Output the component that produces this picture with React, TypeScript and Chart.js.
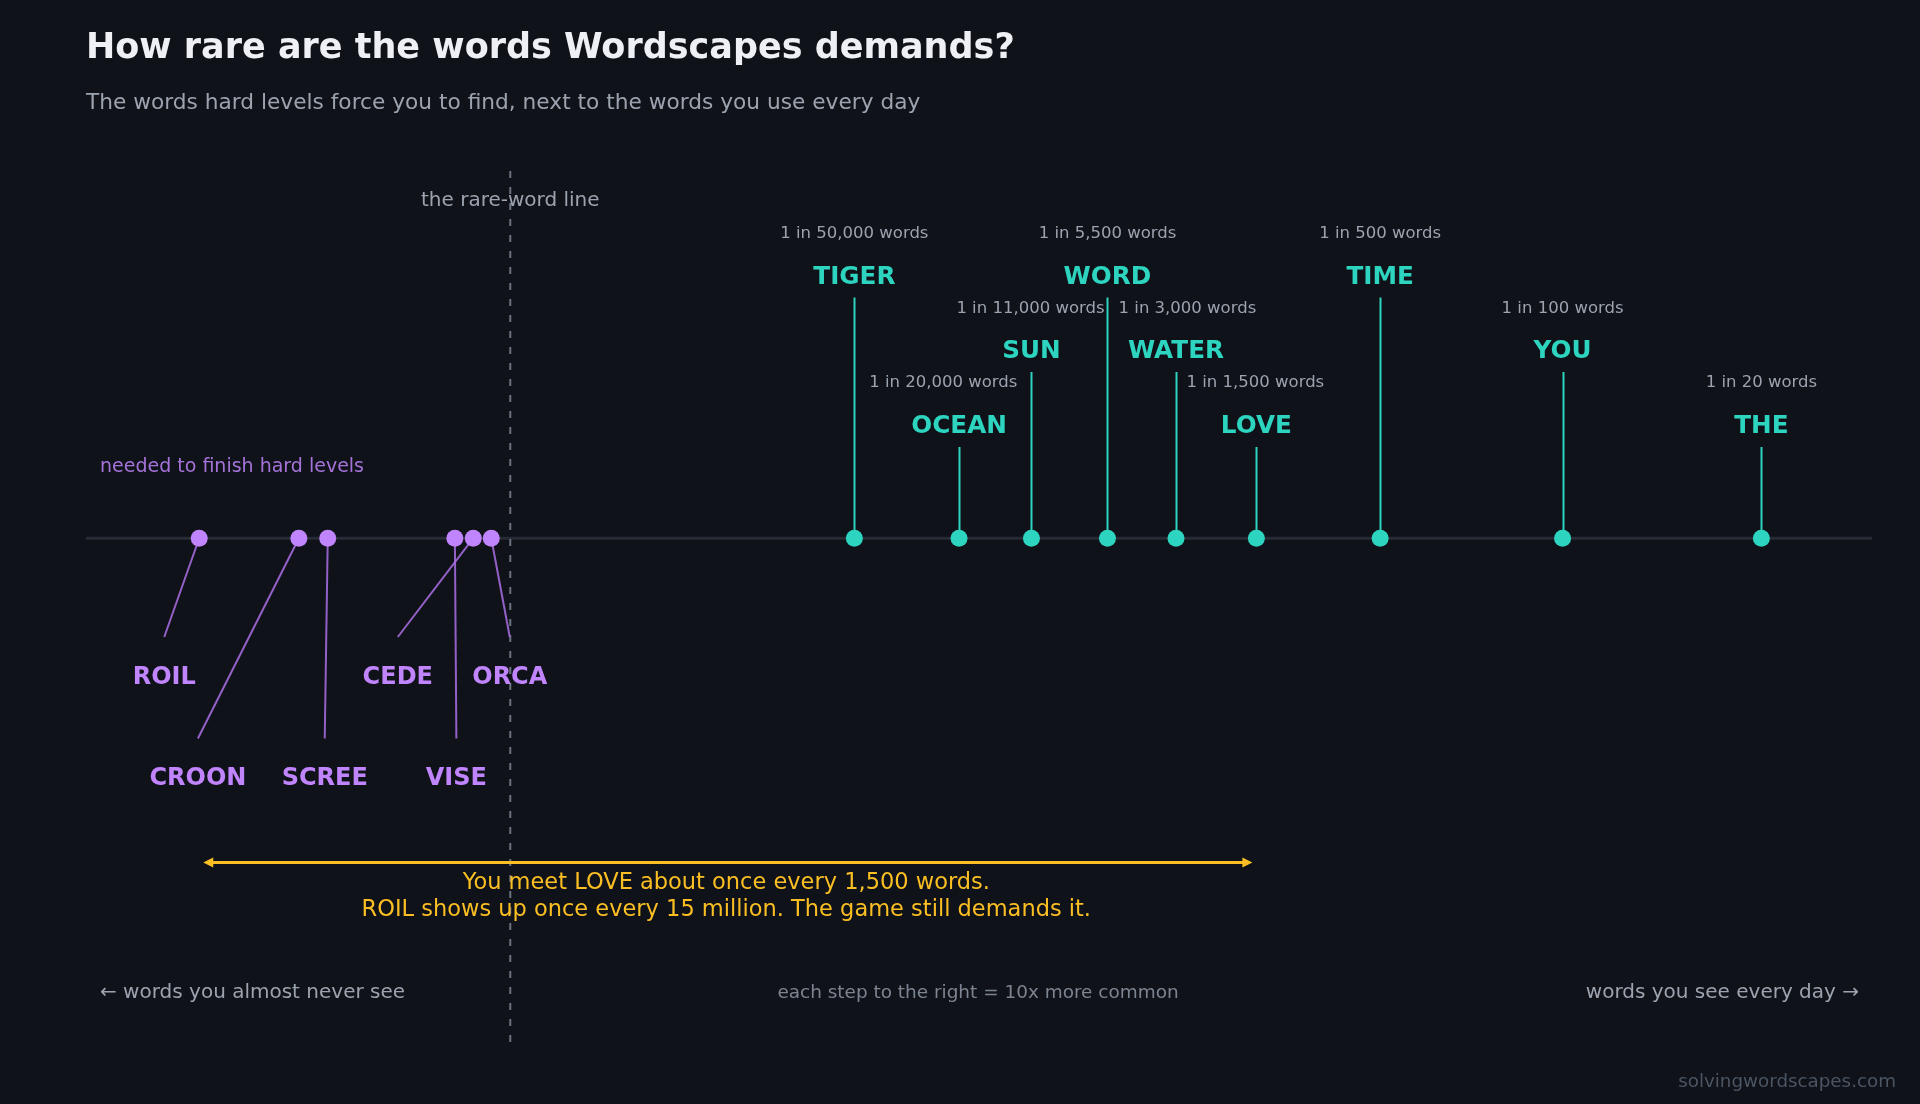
import React, { useEffect, useRef } from 'react';
import { Chart, registerables } from 'chart.js';

Chart.register(...registerables);

// ---------- DATA ----------
const TITLE = 'How rare are the words Wordscapes demands?';
const SUBTITLE = 'The words hard levels force you to find, next to the words you use every day';

// common words: position value ("1 in N words", as plotted) and the printed label
const COMMON_WORDS = ['TIGER', 'OCEAN', 'SUN', 'WORD', 'WATER', 'LOVE', 'TIME', 'YOU', 'THE'];
const COMMON_ONE_IN = [50000, 20100, 10700, 5520, 3040, 1510, 514, 105, 18.6];
const COMMON_LABELS = [
  '1 in 50,000 words',
  '1 in 20,000 words',
  '1 in 11,000 words',
  '1 in 5,500 words',
  '1 in 3,000 words',
  '1 in 1,500 words',
  '1 in 500 words',
  '1 in 100 words',
  '1 in 20 words',
];

// rare words needed for hard levels: "1 in N words"
const RARE_WORDS = ['ROIL', 'CROON', 'SCREE', 'VISE', 'CEDE', 'ORCA'];
const RARE_ONE_IN = [15000000, 6300000, 4900000, 1620000, 1380000, 1180000];

const RARE_LINE_ONE_IN = 1000000;
const AXIS_ONE_IN_MIN = 7.1;
const AXIS_ONE_IN_MAX = 40200000;

const RARE_LINE_LABEL = 'the rare-word line';
const RARE_GROUP_LABEL = 'needed to finish hard levels';
const CALLOUT_FROM = 'ROIL';
const CALLOUT_TO = 'LOVE';
const CALLOUT_LINES = [
  'You meet LOVE about once every 1,500 words.',
  'ROIL shows up once every 15 million. The game still demands it.',
];
const LEFT_NOTE = '\u2190 words you almost never see';
const CENTER_NOTE = 'each step to the right = 10x more common';
const RIGHT_NOTE = 'words you see every day \u2192';
const SOURCE = 'solvingwordscapes.com';

// ---------- LAYOUT (annotation placement, not data) ----------
const COMMON_ROW = [0, 2, 1, 0, 1, 2, 0, 1, 2];
const COMMON_FREQ_DX = [0, -15.7, -1, 0, 11.4, -1, 0, 0, 0];
const COMMON_ROW_FREQ_Y = [234, 308.5, 383];
const COMMON_ROW_WORD_Y = [277.5, 352, 426.5];
const COMMON_ROW_STEM_Y = [297.5, 372, 447];
const RARE_ROW = [0, 1, 1, 1, 0, 0];
const RARE_DX = [-35, -101, -3, 1.5, -75.5, 18.5];
const RARE_ROW_TEXT_Y = [678, 779];
const RARE_ROW_LEAD_Y = [637, 738.5];

const W = 1920;
const H = 1104;
const AXIS_Y = 538;

const FONT = '"DejaVu Sans", "Noto Sans", sans-serif';
const BG = '#0f1218';
const TEAL = '#2dd4bf';
const PURPLE = '#c084fc';
const AMBER = '#fbbf24';
const GRAY = '#9ca3af';

const annotations = {
  id: 'annotations',
  beforeDraw(chart: any) {
    const ctx = chart.ctx;
    ctx.save();
    ctx.fillStyle = BG;
    ctx.fillRect(0, 0, chart.width, chart.height);
    ctx.restore();
  },
  beforeDatasetsDraw(chart: any) {
    const ctx = chart.ctx;
    const xs = chart.scales.x;
    const ys = chart.scales.y;
    const area = chart.chartArea;
    const ay = ys.getPixelForValue(0);
    ctx.save();
    // axis line
    ctx.strokeStyle = '#262b35';
    ctx.lineWidth = 3;
    ctx.beginPath();
    ctx.moveTo(area.left, ay);
    ctx.lineTo(area.right, ay);
    ctx.stroke();

    // rare line
    const rx = xs.getPixelForValue(RARE_LINE_ONE_IN);
    ctx.strokeStyle = '#6b7280';
    ctx.lineWidth = 2;
    ctx.setLineDash([7, 9]);
    ctx.beginPath();
    ctx.moveTo(rx, 171);
    ctx.lineTo(rx, 1045);
    ctx.stroke();
    ctx.setLineDash([]);

    // common stems
    ctx.strokeStyle = TEAL;
    ctx.lineWidth = 2;
    COMMON_ONE_IN.forEach((v, i) => {
      const x = Math.round(xs.getPixelForValue(v)) + 0.5;
      ctx.beginPath();
      ctx.moveTo(x, COMMON_ROW_STEM_Y[COMMON_ROW[i]]);
      ctx.lineTo(x, ay);
      ctx.stroke();
    });

    // rare leaders
    ctx.strokeStyle = 'rgba(170, 110, 230, 0.85)';
    ctx.lineWidth = 2;
    RARE_ONE_IN.forEach((v, i) => {
      const x = xs.getPixelForValue(v);
      ctx.beginPath();
      ctx.moveTo(x, ay);
      ctx.lineTo(x + RARE_DX[i], RARE_ROW_LEAD_Y[RARE_ROW[i]]);
      ctx.stroke();
    });

    // callout arrow
    const x1 = xs.getPixelForValue(RARE_ONE_IN[RARE_WORDS.indexOf(CALLOUT_FROM)]) + 4;
    const x2 = xs.getPixelForValue(COMMON_ONE_IN[COMMON_WORDS.indexOf(CALLOUT_TO)]) - 4;
    const y = 862.5;
    ctx.strokeStyle = AMBER;
    ctx.fillStyle = AMBER;
    ctx.lineWidth = 3;
    ctx.beginPath();
    ctx.moveTo(x1 + 6, y);
    ctx.lineTo(x2 - 6, y);
    ctx.stroke();
    ctx.beginPath();
    ctx.moveTo(x1, y);
    ctx.lineTo(x1 + 10, y - 5);
    ctx.lineTo(x1 + 10, y + 5);
    ctx.closePath();
    ctx.fill();
    ctx.beginPath();
    ctx.moveTo(x2, y);
    ctx.lineTo(x2 - 10, y - 5);
    ctx.lineTo(x2 - 10, y + 5);
    ctx.closePath();
    ctx.fill();
    ctx.restore();
  },
  afterDatasetsDraw(chart: any) {
    const ctx = chart.ctx;
    const xs = chart.scales.x;
    const area = chart.chartArea;
    ctx.save();
    ctx.textBaseline = 'middle';

    // title & subtitle
    ctx.textAlign = 'left';
    ctx.fillStyle = '#eef0f5';
    ctx.font = `bold 35px ${FONT}`;
    ctx.fillText(TITLE, area.left, 49);
    ctx.fillStyle = GRAY;
    ctx.font = `21.7px ${FONT}`;
    ctx.fillText(SUBTITLE, area.left, 103);

    // rare line label
    const rx = xs.getPixelForValue(RARE_LINE_ONE_IN);
    ctx.textAlign = 'center';
    ctx.fillStyle = GRAY;
    ctx.font = `20px ${FONT}`;
    ctx.fillText(RARE_LINE_LABEL, rx, 201);

    // rare group label
    ctx.textAlign = 'left';
    ctx.fillStyle = 'rgba(192, 132, 252, 0.85)';
    ctx.font = `19px ${FONT}`;
    ctx.fillText(RARE_GROUP_LABEL, 100, 467.5);

    // common labels
    ctx.textAlign = 'center';
    COMMON_WORDS.forEach((w, i) => {
      const x = xs.getPixelForValue(COMMON_ONE_IN[i]);
      const r = COMMON_ROW[i];
      ctx.fillStyle = GRAY;
      ctx.font = `16.5px ${FONT}`;
      ctx.fillText(COMMON_LABELS[i], x + COMMON_FREQ_DX[i], COMMON_ROW_FREQ_Y[r]);
      ctx.fillStyle = TEAL;
      ctx.font = `bold 24.7px ${FONT}`;
      ctx.fillText(w, x, COMMON_ROW_WORD_Y[r]);
    });

    // rare labels
    RARE_WORDS.forEach((w, i) => {
      const x = xs.getPixelForValue(RARE_ONE_IN[i]) + RARE_DX[i];
      ctx.fillStyle = PURPLE;
      ctx.font = `bold 24px ${FONT}`;
      ctx.fillText(w, x, RARE_ROW_TEXT_Y[RARE_ROW[i]]);
    });

    // callout text
    const x1 = xs.getPixelForValue(RARE_ONE_IN[RARE_WORDS.indexOf(CALLOUT_FROM)]);
    const x2 = xs.getPixelForValue(COMMON_ONE_IN[COMMON_WORDS.indexOf(CALLOUT_TO)]);
    const cx = (x1 + x2) / 2 - 1.5;
    ctx.fillStyle = AMBER;
    ctx.font = `22.5px ${FONT}`;
    ctx.fillText(CALLOUT_LINES[0], cx, 883);
    ctx.fillText(CALLOUT_LINES[1], cx, 910);

    // bottom notes
    ctx.fillStyle = GRAY;
    ctx.font = `20px ${FONT}`;
    ctx.textAlign = 'left';
    ctx.fillText(LEFT_NOTE, 100, 992.5);
    ctx.textAlign = 'right';
    ctx.fillText(RIGHT_NOTE, 1859, 992.5);
    ctx.textAlign = 'center';
    ctx.fillStyle = '#7d8491';
    ctx.font = `18.45px ${FONT}`;
    ctx.fillText(CENTER_NOTE, (area.left + area.right) / 2 - 1, 993);

    // source
    ctx.textAlign = 'right';
    ctx.fillStyle = '#4b5563';
    ctx.font = `18.3px ${FONT}`;
    ctx.fillText(SOURCE, 1896, 1082);
    ctx.restore();
  },
};

export default function App() {
  const ref = useRef<HTMLCanvasElement | null>(null);

  useEffect(() => {
    document.body.style.margin = '0';
    document.body.style.background = BG;
    const canvas = ref.current;
    if (!canvas) return;
    const chart = new Chart(canvas, {
      type: 'scatter',
      data: {
        datasets: [
          {
            label: 'common',
            data: COMMON_ONE_IN.map((v) => ({ x: v, y: 0 })),
            pointRadius: 8.5,
            pointHoverRadius: 8.5,
            pointBackgroundColor: TEAL,
            pointBorderWidth: 0,
            borderWidth: 0,
          },
          {
            label: 'rare',
            data: RARE_ONE_IN.map((v) => ({ x: v, y: 0 })),
            pointRadius: 8.5,
            pointHoverRadius: 8.5,
            pointBackgroundColor: PURPLE,
            pointBorderWidth: 0,
            borderWidth: 0,
          },
        ],
      },
      options: {
        animation: false,
        responsive: false,
        maintainAspectRatio: false,
        devicePixelRatio: 1,
        events: [],
        layout: { padding: { left: 86, right: 48, top: 0, bottom: 0 } },
        plugins: {
          legend: { display: false },
          tooltip: { enabled: false },
          title: { display: false },
        },
        scales: {
          x: {
            type: 'logarithmic',
            reverse: true,
            min: AXIS_ONE_IN_MIN,
            max: AXIS_ONE_IN_MAX,
            bounds: 'data',
            display: false,
          },
          y: {
            type: 'linear',
            min: -(H - AXIS_Y),
            max: AXIS_Y,
            display: false,
          },
        },
      },
      plugins: [annotations],
    } as any);
    return () => chart.destroy();
  }, []);

  return (
    <div style={{ position: 'fixed', left: 0, top: 0, width: W, height: H, background: BG }}>
      <canvas ref={ref} width={W} height={H} style={{ display: 'block', width: W, height: H }} />
    </div>
  );
}
